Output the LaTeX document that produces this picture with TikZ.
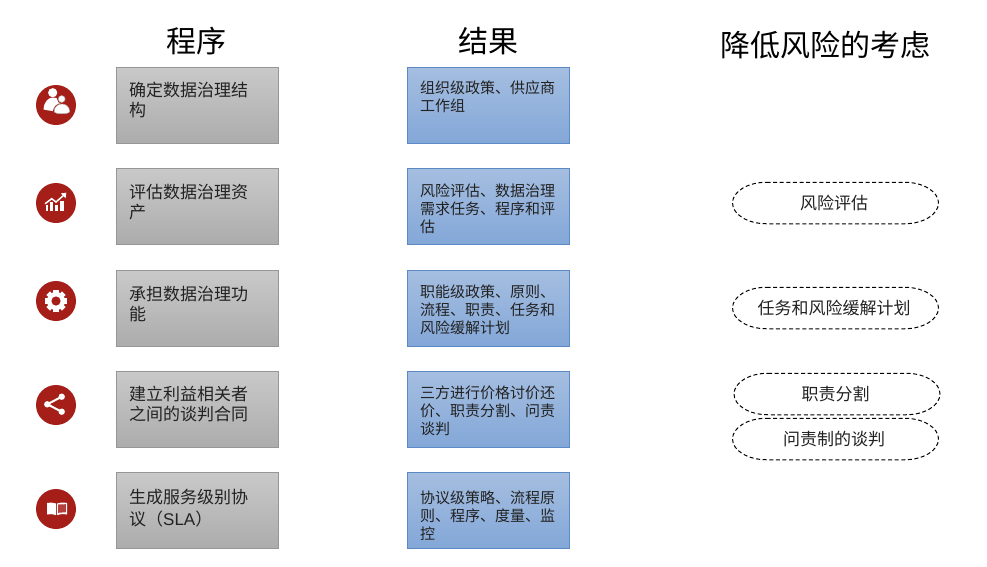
\documentclass[tikz,border=0pt]{standalone}
\usepackage{fontspec}
\setmainfont{Liberation Sans}
\newfontfamily\cjk{Noto Sans CJK SC}
\definecolor{iconred}{HTML}{A51F18}
\definecolor{grayedge}{HTML}{969696}
\definecolor{grayhi}{HTML}{C9C9C9}
\definecolor{graylo}{HTML}{ACACAC}
\definecolor{blueedge}{HTML}{5B8AC6}
\definecolor{bluehi}{HTML}{A5BEE0}
\definecolor{bluelo}{HTML}{83A7D8}
\definecolor{ink}{HTML}{222222}
\tikzset{
  grayshape/.style={draw=grayedge,line width=0.9pt,top color=grayhi,bottom color=graylo,minimum width=162pt,minimum height=76pt,inner sep=0pt,outer sep=0pt},
  blueshape/.style={draw=blueedge,line width=0.9pt,top color=bluehi,bottom color=bluelo,minimum width=162pt,minimum height=76pt,inner sep=0pt,outer sep=0pt},
  graytext/.style={anchor=north west,inner sep=0pt,align=left,text=ink,font=\cjk\fontsize{17pt}{20.2pt}\selectfont},
  bluetext/.style={anchor=north west,inner sep=0pt,align=left,text=ink,font=\cjk\fontsize{15pt}{18pt}\selectfont},
  pill/.style={minimum width=206pt,minimum height=41.5pt,inner sep=0pt,outer sep=0pt,text=ink,font=\cjk\fontsize{17pt}{20pt}\selectfont,execute at begin node={\hspace*{-3pt}}},
  pilledge/.style={draw=black,dash pattern=on 4pt off 2.6pt,line width=1pt},
  headline/.style={inner sep=0pt,text=black,font=\cjk\fontsize{30pt}{34pt}\selectfont},
  badge/.style={circle,fill=iconred,minimum size=40pt,inner sep=0pt},
}
\begin{document}
\begin{tikzpicture}[x=1pt,y=-1pt]
\useasboundingbox (0,0) rectangle (987,566);
\fill[white] (0,0) rectangle (987,566);
% titles
\node[headline] (t1) at (196.5,41) {程序};
\node[headline] (t2) at (488,41) {结果};
\node[headline] (t3) at (825,45) {降低风险的考虑};
% grey boxes
\node[grayshape] (g1) at (197.5,105.5) {};
\node[grayshape] (g2) at (197.5,206.5) {};
\node[grayshape] (g3) at (197.5,308.5) {};
\node[grayshape] (g4) at (197.5,409.5) {};
\node[grayshape] (g5) at (197.5,510.5) {};
\node[graytext] (gt1) at (129,82) {确定数据治理结\\构};
\node[graytext] (gt2) at (129,184) {评估数据治理资\\产};
\node[graytext] (gt3) at (129,286) {承担数据治理功\\能};
\node[graytext] (gt4) at (129,386) {建立利益相关者\\之间的谈判合同};
\node[graytext] (gt5) at (129,489) {生成服务级别协\\[1.5pt]议（{\fontspec{Liberation Sans}SLA}）};
% blue boxes
\node[blueshape] (b1) at (488.5,105.5) {};
\node[blueshape] (b2) at (488.5,206.5) {};
\node[blueshape] (b3) at (488.5,308.5) {};
\node[blueshape] (b4) at (488.5,409.5) {};
\node[blueshape] (b5) at (488.5,510.5) {};
\node[bluetext] (bt1) at (420,81) {组织级政策、供应商\\工作组};
\node[bluetext] (bt2) at (420,184) {风险评估、数据治理\\需求任务、程序和评\\估};
\node[bluetext] (bt3) at (420,285) {职能级政策、原则、\\流程、职责、任务和\\风险缓解计划};
\node[bluetext] (bt4) at (420,386) {三方进行价格讨价还\\价、职责分割、问责\\谈判};
\node[bluetext] (bt5) at (420,491) {协议级策略、流程原\\则、程序、度量、监\\控};
% pills
\node[pill] (p1) at (835.5,203) {风险评估};
\node[pill] (p2) at (835.5,308) {任务和风险缓解计划};
\node[pill] (p3) at (837,394) {职责分割};
\node[pill] (p4) at (835.5,439) {问责制的谈判};
\foreach \p in {p1,p2,p3,p4}
  \draw[pilledge] ([xshift=34pt]\p.north west) -- ([xshift=-34pt]\p.north east)
    arc[start angle=90,end angle=-90,x radius=34pt,y radius=20.75pt]
    -- ([xshift=34pt]\p.south west)
    arc[start angle=270,end angle=90,x radius=34pt,y radius=20.75pt] -- cycle;
% badges
\node[badge] (i1) at (56,105) {};
\node[badge] (i2) at (56,203) {};
\node[badge] (i3) at (56,301) {};
\node[badge] (i4) at (56,405) {};
\node[badge] (i5) at (56,509) {};
% people icon
\begin{scope}[shift={(i1.center)}]
  \fill[white] (-3.3,-12.3) circle (4.6);
  \fill[white] (-12.5,4.5) .. controls (-12,-3) and (-8,-7.5) .. (-3,-7.5) .. controls (1,-7.5) and (5,-5) .. (6,2) -- (2,7) .. controls (-3,6) and (-8,5.5) .. (-12.5,4.5) -- cycle;
  \fill[iconred] (5.7,-6) circle (4.6);
  \fill[iconred] (-3.2,8.5) .. controls (-3.6,2) and (1,-2) .. (6,-2) .. controls (11,-2) and (15,2) .. (15,9.5) -- cycle;
  \filldraw[fill=white,draw=gray!60,line width=0.5pt] (5.7,-6) circle (3.4);
  \filldraw[fill=white,draw=gray!60,line width=0.5pt] (-1.8,6.5) .. controls (-2,2) and (2,-1) .. (6,-1) .. controls (10,-1) and (13.6,2) .. (13.6,6.5) .. controls (13.6,9.5) and (-1.6,9.5) .. (-1.8,6.5) -- cycle;
\end{scope}
% chart icon
\begin{scope}[shift={(i2.center)}]
  \fill[white] (-10.5,2) rectangle (-8,8.3);
  \fill[white] (-5.8,-1.5) rectangle (-3,8.3);
  \fill[white] (-1,1.5) rectangle (1.8,8.3);
  \fill[white] (4.3,-2.5) rectangle (7.6,8.3);
  \draw[white,line width=1.5pt] (-11,0.8) -- (-4.3,-4.3) -- (0,-1) -- (8,-8);
  \fill[white] (10.3,-10.3) -- (4.8,-9.6) -- (9.6,-4.8) -- cycle;
\end{scope}
% gear icon
\begin{scope}[shift={(i3.center)}]
  \foreach \a in {0,45,...,315}
    \fill[white,rotate=\a] (-2.6,-11) rectangle (2.6,-6);
  \fill[white] (0,0) circle (9);
  \fill[iconred] (0,0) circle (4.6);
\end{scope}
% share icon
\begin{scope}[shift={(i4.center)}]
  \draw[white,line width=2pt] (5.7,-8.3) -- (-8.7,-0.7) -- (5.7,6.7);
  \fill[white] (5.7,-8.3) circle (3.2);
  \fill[white] (-8.7,-0.7) circle (3.2);
  \fill[white] (5.7,6.7) circle (3.2);
\end{scope}
% book icon
\begin{scope}[shift={(i5.center)}]
  \fill[white] (-9,-6) .. controls (-6,-6.8) and (-3,-6.6) .. (0,-5.5) -- (0,6) .. controls (-3,5) and (-6,4.8) .. (-9,5.5) -- cycle;
  \fill[white] (1,-5.5) .. controls (4,-6.6) and (7,-6.8) .. (11,-6) -- (11,5.5) .. controls (7,4.8) and (4,5) .. (1,6) -- cycle;
  \fill[iconred!85!white] (2.2,-4.5) -- (9.8,-4.8) -- (9.8,3.2) -- (2.2,3.8) -- cycle;
\end{scope}
\end{tikzpicture}
\end{document}
